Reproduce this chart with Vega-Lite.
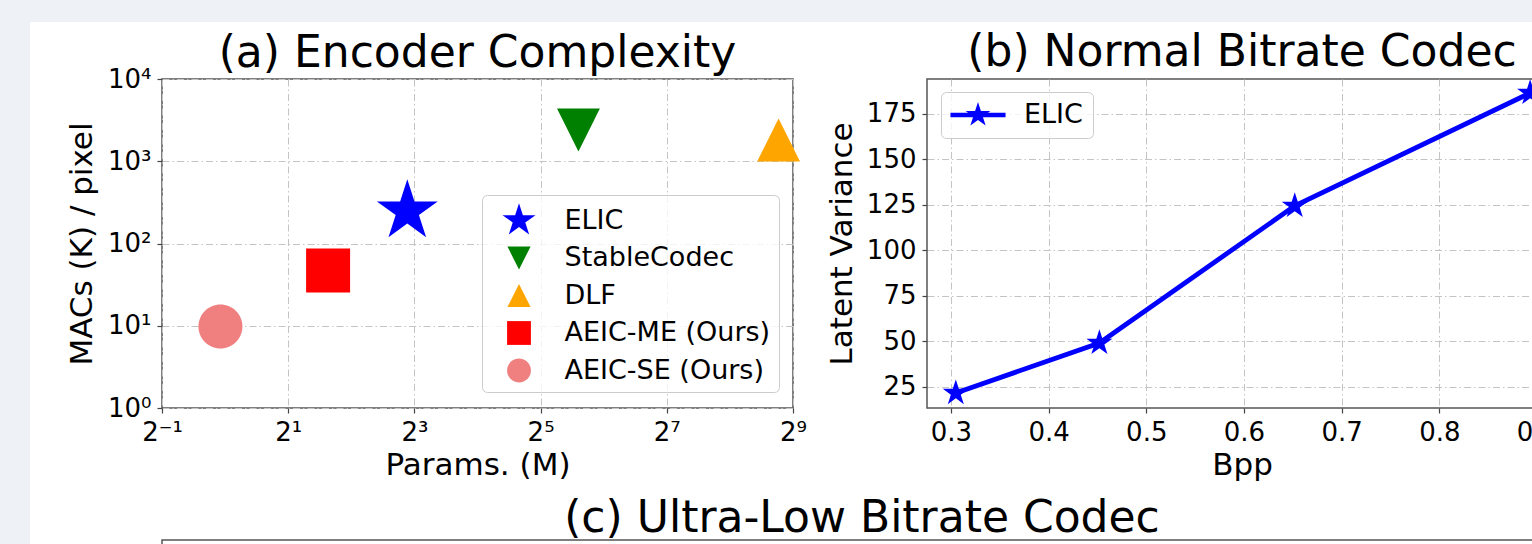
{
  "$schema": "https://vega.github.io/schema/vega-lite/v6.json",
  "padding": 0,
  "background": "#ffffff",
  "config": {
    "font": "DejaVu Sans",
    "view": {"stroke": "#555555", "strokeWidth": 1.5},
    "axis": {
      "labelFont": "DejaVu Sans", "labelFontSize": 26, "labelColor": "#000000",
      "titleFont": "DejaVu Sans", "titleFontSize": 31, "titleFontWeight": "normal", "titleColor": "#000000",
      "tickColor": "#444444", "tickSize": 5, "tickWidth": 1.2, "domain": false,
      "grid": true, "gridColor": "#c4c4c4", "gridWidth": 1, "gridDash": [7, 3, 1.5, 3],
      "labelPadding": 6, "labelFlush": false, "labelOverlap": false
    },
    "legend": {"labelFont": "DejaVu Sans", "labelColor": "#000000"},
    "title": {"font": "DejaVu Sans", "fontSize": 44, "fontWeight": "normal", "color": "#000000", "anchor": "middle", "baseline": "alphabetic", "offset": 11}
  },
  "spacing": 0,
  "bounds": "flush",
  "resolve": {"scale": {"color": "independent", "shape": "independent"}, "legend": {"color": "independent", "shape": "independent"}},
  "hconcat": [
    {"width": 30, "height": 544, "view": {"fill": "#eef2f7", "stroke": null}, "data": {"values": []}, "mark": "point", "encoding": {}},
    {
      "spacing": 57,
      "bounds": "flush",
      "resolve": {"scale": {"color": "independent", "shape": "independent"}, "legend": {"color": "independent", "shape": "independent"}},
      "vconcat": [
        {"width": 1502, "height": 22, "view": {"fill": "#eef2f7", "stroke": null}, "data": {"values": []}, "mark": "point", "encoding": {}},
        {
          "spacing": 461,
          "bounds": "flush",
          "resolve": {"scale": {"color": "independent", "shape": "independent"}, "legend": {"color": "independent", "shape": "independent"}},
          "vconcat": [
            {
              "spacing": 131,
              "bounds": "flush",
              "resolve": {"scale": {"color": "independent", "shape": "independent"}, "legend": {"color": "independent", "shape": "independent"}},
              "hconcat": [
                {"width": 1, "height": 329, "view": {"fill": null, "stroke": null}, "data": {"values": []}, "mark": "point", "encoding": {}},
                {
                  "spacing": 134,
                  "bounds": "flush",
                  "resolve": {"scale": {"color": "independent", "shape": "independent"}, "legend": {"color": "independent", "shape": "independent"}},
                  "hconcat": [
                    {
                      "width": 631, "height": 329,
                      "title": {"text": "(a) Encoder Complexity", "offset": -10},
                      "data": {"values": [
                        {"codec": "ELIC", "params": 7.4, "macs": 246},
                        {"codec": "StableCodec", "params": 48.5, "macs": 2400},
                        {"codec": "DLF", "params": 437, "macs": 1810},
                        {"codec": "AEIC-ME (Ours)", "params": 3.1, "macs": 47},
                        {"codec": "AEIC-SE (Ours)", "params": 0.95, "macs": 9.8}
                      ]},
                      "mark": {"type": "point", "filled": true, "opacity": 1, "size": 4096, "strokeWidth": 0},
                      "encoding": {
                        "x": {"field": "params", "type": "quantitative",
                          "scale": {"type": "log", "base": 2, "domain": [0.5, 512], "nice": false},
                          "axis": {"title": "Params. (M)", "values": [0.5, 2, 8, 32, 128, 512], "titlePadding": 5,
                            "labelExpr": "datum.value < 1 ? '2⁻¹' : datum.value < 4 ? '2¹' : datum.value < 16 ? '2³' : datum.value < 64 ? '2⁵' : datum.value < 256 ? '2⁷' : '2⁹'"}},
                        "y": {"field": "macs", "type": "quantitative",
                          "scale": {"type": "log", "domain": [1, 10000], "nice": false},
                          "axis": {"title": "MACs (K) / pixel", "values": [1, 10, 100, 1000, 10000], "titlePadding": 9,
                            "labelExpr": "datum.value < 5 ? '10⁰' : datum.value < 50 ? '10¹' : datum.value < 500 ? '10²' : datum.value < 5000 ? '10³' : '10⁴'"}},
                        "color": {"field": "codec", "type": "nominal",
                          "scale": {"domain": ["ELIC", "StableCodec", "DLF", "AEIC-ME (Ours)", "AEIC-SE (Ours)"], "range": ["#0000ff", "#008000", "#ffa500", "#ff0000", "#f08080"]},
                          "legend": {"title": null, "orient": "none", "legendX": 320, "legendY": 116, "padding": 8, "fillColor": "rgba(255,255,255,0.8)", "strokeColor": "#cccccc", "cornerRadius": 5, "symbolSize": 1200, "symbolStrokeWidth": 0, "labelFontSize": 27, "labelOffset": 28, "symbolOffset": 11.5, "rowPadding": 5.5, "gridAlign": "all", "labelLimit": 400}},
                        "shape": {"field": "codec", "type": "nominal",
                          "scale": {"domain": ["ELIC", "StableCodec", "DLF", "AEIC-ME (Ours)", "AEIC-SE (Ours)"], "range": [
                            "M0,-1L0.2245,-0.309L0.9511,-0.309L0.3633,0.118L0.5878,0.809L0,0.382L-0.5878,0.809L-0.3633,0.118L-0.9511,-0.309L-0.2245,-0.309Z",
                            "M0,0.67L-0.67,-0.67L0.67,-0.67Z",
                            "M0,-0.67L0.67,0.67L-0.67,0.67Z",
                            "M-0.6875,-0.6875L0.6875,-0.6875L0.6875,0.6875L-0.6875,0.6875Z",
                            "M0.6875,0A0.6875,0.6875,0,1,1,-0.6875,0A0.6875,0.6875,0,1,1,0.6875,0Z"]},
                          "legend": {"title": null, "orient": "none", "legendX": 320, "legendY": 116, "padding": 8, "fillColor": "rgba(255,255,255,0.8)", "strokeColor": "#cccccc", "cornerRadius": 5, "symbolSize": 1200, "symbolStrokeWidth": 0, "labelFontSize": 27, "labelOffset": 28, "symbolOffset": 11.5, "rowPadding": 5.5, "gridAlign": "all", "labelLimit": 400}}
                      }
                    },
                    {
                      "width": 630, "height": 329,
                      "title": {"text": "(b) Normal Bitrate Codec", "offset": 4.5},
                      "data": {"values": [
                        {"method": "ELIC", "bpp": 0.305, "variance": 21.5},
                        {"method": "ELIC", "bpp": 0.452, "variance": 49},
                        {"method": "ELIC", "bpp": 0.652, "variance": 124.3},
                        {"method": "ELIC", "bpp": 0.893, "variance": 186.3}
                      ]},
                      "encoding": {
                        "x": {"field": "bpp", "type": "quantitative",
                          "scale": {"domain": [0.2755, 0.9205], "nice": false, "zero": false},
                          "axis": {"title": "Bpp", "values": [0.3, 0.4, 0.5, 0.6, 0.7, 0.8, 0.9], "format": ".1f", "titlePadding": 5}},
                        "y": {"field": "variance", "type": "quantitative",
                          "scale": {"domain": [13.3, 194], "nice": false, "zero": false},
                          "axis": {"title": "Latent Variance", "values": [25, 50, 75, 100, 125, 150, 175], "titlePadding": 8}}
                      },
                      "layer": [
                        {"mark": {"type": "line", "color": "#0000ff", "strokeWidth": 4.8}},
                        {"mark": {"type": "point", "filled": true, "opacity": 1, "size": 750, "strokeWidth": 0,
                           "shape": "M0,-1L0.2245,-0.309L0.9511,-0.309L0.3633,0.118L0.5878,0.809L0,0.382L-0.5878,0.809L-0.3633,0.118L-0.9511,-0.309L-0.2245,-0.309Z"},
                         "encoding": {
                           "color": {"field": "method", "type": "nominal", "scale": {"domain": ["ELIC"], "range": ["#0000ff"]},
                             "legend": {"title": null, "orient": "none", "legendX": 14, "legendY": 13, "padding": 9.5, "fillColor": "rgba(255,255,255,0.8)", "strokeColor": "#cccccc", "cornerRadius": 5,
                               "symbolType": "M-2.04,-0.17L2.04,-0.17L2.04,0.17L-2.04,0.17Z M0,-0.963L0.2162,-0.2976L0.9159,-0.2976L0.3499,0.1137L0.5661,0.7791L0,0.3679L-0.5661,0.7791L-0.3499,0.1137L-0.9159,-0.2976L-0.2162,-0.2976Z",
                               "symbolSize": 729, "symbolStrokeWidth": 0, "symbolFillColor": "#0000ff", "labelFontSize": 27, "labelOffset": 32.5, "symbolOffset": 14,
                               "encode": {"symbols": {"update": {
                                 "shape": {"value": "M-2.04,-0.17L2.04,-0.17L2.04,0.17L-2.04,0.17Z M0,-0.963L0.2162,-0.2976L0.9159,-0.2976L0.3499,0.1137L0.5661,0.7791L0,0.3679L-0.5661,0.7791L-0.3499,0.1137L-0.9159,-0.2976L-0.2162,-0.2976Z"},
                                 "fill": {"value": "#0000ff"}, "size": {"value": 729}, "strokeWidth": {"value": 0}}}}}}
                         }}
                      ]
                    }
                  ]
                }
              ]
            },
            {
              "spacing": 131,
              "bounds": "flush",
              "hconcat": [
                {"width": 1, "height": 6, "view": {"fill": null, "stroke": null}, "data": {"values": []}, "mark": "point", "encoding": {}},
                {"width": 1400, "height": 6, "view": {"fill": null, "stroke": "#555555", "strokeWidth": 1.5}, "title": {"text": "(c) Ultra-Low Bitrate Codec", "offset": -1}, "data": {"values": []}, "mark": "point", "encoding": {}}
              ]
            }
          ]
        }
      ]
    }
  ]
}
